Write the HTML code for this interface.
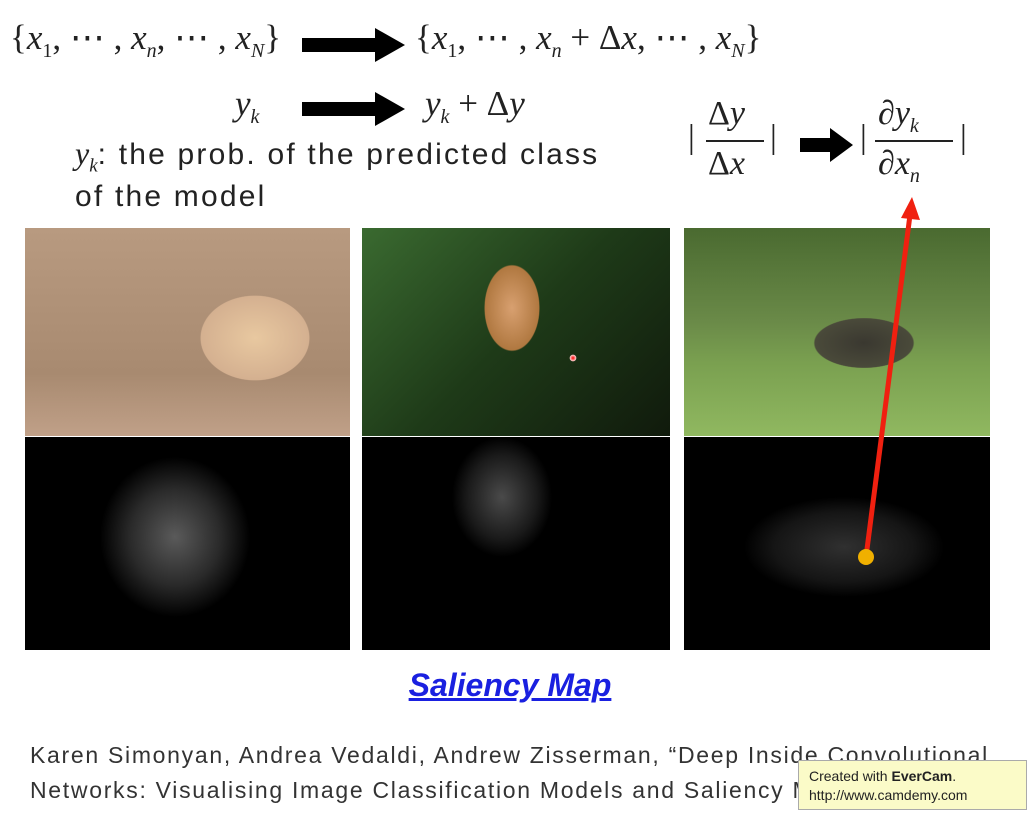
<!DOCTYPE html>
<html><head><meta charset="utf-8">
<style>
body{margin:0;width:1027px;height:813px;background:#fff;position:relative;overflow:hidden;font-family:"Liberation Sans",sans-serif;}
.abs{position:absolute;}
.math{font-family:"Liberation Serif",serif;font-size:35px;color:#222;white-space:nowrap;}
.txt{font-size:30px;letter-spacing:2.2px;color:#222;white-space:nowrap;}
.img{position:absolute;overflow:hidden;}
</style></head><body>
<div class="abs math" style="left:10px;top:18px;">{<i>x</i><sub style="font-size:20px">1</sub>, ⋯ , <i>x<sub style="font-size:20px">n</sub></i>, ⋯ , <i>x<sub style="font-size:20px">N</sub></i>}</div>
<div class="abs math" style="left:415px;top:18px;">{<i>x</i><sub style="font-size:20px">1</sub>, ⋯ , <i>x<sub style="font-size:20px">n</sub></i> + Δ<i>x</i>, ⋯ , <i>x<sub style="font-size:20px">N</sub></i>}</div>
<div class="abs math" style="left:235px;top:84px;"><i>y<sub style="font-size:20px">k</sub></i></div>
<div class="abs math" style="left:425px;top:84px;"><i>y<sub style="font-size:20px">k</sub></i> + Δ<i>y</i></div>
<svg class="abs" style="left:0;top:0" width="1027" height="813">
<polygon points="302,38 375,38 375,28 405,45 375,62 375,52 302,52" fill="#000"/>
<polygon points="302,102 375,102 375,92 405,109 375,126 375,116 302,116" fill="#000"/>
<polygon points="800,138 830,138 830,128 853,145 830,162 830,152 800,152" fill="#000"/>
</svg>
<div class="abs txt" style="left:75px;top:135px;"><i style="font-family:'Liberation Serif',serif;font-size:32px;letter-spacing:0">y<sub style="font-size:19px">k</sub></i>: the prob. of the predicted class</div>
<div class="abs txt" style="left:75px;top:180px;">of the model</div>
<div class="abs math" style="left:688px;top:95px;font-size:34px;">
<span style="position:absolute;left:0;top:24px">|</span>
<span style="position:absolute;left:20px;top:0">Δ<i>y</i></span>
<span style="position:absolute;left:18px;top:45px;width:58px;border-top:2px solid #222"></span>
<span style="position:absolute;left:20px;top:50px">Δ<i>x</i></span>
<span style="position:absolute;left:82px;top:24px">|</span></div>
<div class="abs math" style="left:860px;top:95px;font-size:34px;">
<span style="position:absolute;left:0;top:24px">|</span>
<span style="position:absolute;left:18px;top:0">∂<i>y<sub style="font-size:20px">k</sub></i></span>
<span style="position:absolute;left:15px;top:45px;width:78px;border-top:2px solid #222"></span>
<span style="position:absolute;left:18px;top:50px">∂<i>x<sub style="font-size:20px">n</sub></i></span>
<span style="position:absolute;left:100px;top:24px">|</span></div>

<div class="img" style="left:25px;top:228px;width:325px;height:208px;background:radial-gradient(ellipse 90px 70px at 230px 110px,#e8c8a0,#d4b090 60%,transparent 61%),linear-gradient(#b89a80,#a88a70 70%,#c0a088);"></div>
<div class="img" style="left:362px;top:228px;width:308px;height:208px;background:radial-gradient(ellipse 45px 70px at 150px 80px,#d8a070,#b07840 60%,transparent 62%),radial-gradient(circle 6px at 211px 130px,#f00,#fcc 50%,transparent 60%),linear-gradient(135deg,#3a6a30,#1e3a18 50%,#101a0c);"></div>
<div class="img" style="left:684px;top:228px;width:306px;height:208px;background:radial-gradient(ellipse 70px 35px at 180px 115px,#3a3830,#4a4a3a 70%,transparent 72%),linear-gradient(#4a6a30,#6a8a48 45%,#7aa050 65%,#90b860);"></div>
<div class="img" style="left:25px;top:437px;width:325px;height:213px;background:radial-gradient(ellipse 75px 80px at 150px 100px,#5a5a5a,#2a2a2a 60%,#000 100%);"></div>
<div class="img" style="left:362px;top:437px;width:308px;height:213px;background:radial-gradient(ellipse 50px 60px at 140px 60px,#4a4a4a,#1a1a1a 70%,#000 100%);"></div>
<div class="img" style="left:684px;top:437px;width:306px;height:213px;background:radial-gradient(ellipse 100px 50px at 160px 110px,#303030,#151515 70%,#000 100%);"></div>

<svg class="abs" style="left:0;top:0" width="1027" height="813">
<line x1="866" y1="557" x2="910" y2="215" stroke="#f02010" stroke-width="5"/>
<polygon points="912,197 901,218 920,220" fill="#f02010"/>
<circle cx="866" cy="557" r="8" fill="#f0b000"/>
</svg>

<div class="abs" style="left:0;width:1020px;top:667px;text-align:center;font-size:32px;font-weight:bold;font-style:italic;color:#1a20e0;text-decoration:underline;">Saliency Map</div>
<div class="abs" style="left:30px;top:738px;font-size:23px;letter-spacing:1.7px;color:#333;line-height:35px;white-space:nowrap;">Karen Simonyan, Andrea Vedaldi, Andrew Zisserman, “Deep Inside Convolutional<br>Networks: Visualising Image Classification Models and Saliency Maps”, ICLR 2014</div>
<div class="abs" style="left:798px;top:760px;width:229px;height:50px;background:#fbfbc8;border:1px solid #aaa;font-size:14px;color:#222;padding:6px 10px;box-sizing:border-box;line-height:19px;white-space:nowrap;">Created with <b>EverCam</b>.<br>http://www.camdemy.com</div>
</body></html>
